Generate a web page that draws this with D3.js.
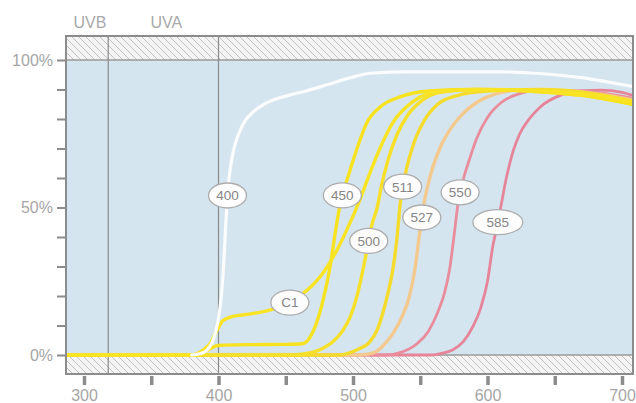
<!DOCTYPE html>
<html>
<head>
<meta charset="utf-8">
<script src="https://cdn.jsdelivr.net/npm/d3@7"></script>
<style>
  body { margin: 0; background: #fff; }
  svg { display: block; }
  text { font-family: "Liberation Sans", Arial, Helvetica, sans-serif; }
</style>
</head>
<body>
<svg id="chart" width="636" height="403"></svg>
<script>
// Axis ticks
const xTickValues = [300, 350, 400, 450, 500, 550, 600, 650, 700];
const xTickLabels = [300, 400, 500, 600, 700];
const yTickValues = [0, 10, 20, 30, 40, 50, 60, 70, 80, 90, 100];
const yTickLabels = [0, 50, 100];

// UV regions (nm)
const bandNames = ["UVB", "UVA"];
const bandEdges = [286.5, 318, 400];

// Transmission curves: wavelength (nm) and transmission (%)
const wl400 = [380, 386, 391, 395, 398, 400.5, 402.5, 404, 405.5, 407, 409, 411.5, 415, 420, 426, 433, 441, 452, 465, 480, 498, 513, 540, 572, 610, 632, 650, 670, 690, 708];
const tr400 = [0, 0.4, 1.5, 4, 8, 14, 22, 32, 45, 56, 64, 70, 75, 79.5, 82.5, 84.8, 86.5, 88, 89.5, 91.5, 94, 95.5, 96, 96, 96, 95.6, 95, 94, 92.5, 91];

const wl450 = [286, 385, 390, 395, 400, 420, 450, 462, 468, 473, 478, 483, 487, 490, 492, 496, 503, 510, 520, 535, 557, 590, 630, 670, 708];
const tr450 = [0, 0, 1, 2.5, 3.2, 3.5, 3.6, 3.8, 6, 11, 19, 30, 42, 50, 54, 60, 70, 78.5, 84, 87.5, 89.5, 90, 89.5, 88, 85];

const wlC1 = [286, 380, 388, 394, 399, 403, 410, 425, 440, 452, 466, 478, 488, 496, 505, 512, 520, 530, 545, 565, 600, 640, 680, 708];
const trC1 = [0, 0, 1.5, 4, 8.5, 11.5, 13, 14, 15.5, 17.5, 22, 28, 35.5, 43, 52.5, 61, 70, 79, 86, 89.5, 90, 89.5, 88, 86];

const wl500 = [286, 455, 465, 472, 478, 485, 492, 498, 503, 507, 511, 514, 518, 521, 526, 533, 541, 552, 565, 590, 630, 670, 708];
const tr500 = [0, 0, 0.5, 1.2, 2.4, 4.5, 8, 13, 20, 28, 37, 44, 50, 57, 66, 75, 81.5, 86.5, 89, 90, 89.5, 88, 85];

const wl511 = [286, 490, 498, 505, 512, 518, 522, 526, 530, 533, 535, 539, 545, 553, 563, 578, 600, 640, 680, 708];
const tr511 = [0, 0, 0.8, 2.2, 4.2, 8.5, 14, 21, 30, 41, 51, 61.5, 71.5, 79.5, 85, 88, 89.5, 90, 88.5, 86];

const wl527 = [286, 505, 515, 522, 530, 537, 542, 546, 550, 553, 557, 565, 573, 580, 590, 600, 625, 660, 690, 708];
const tr527 = [0, 0, 0.7, 3, 7.5, 13.5, 20, 29, 43, 52, 60, 70.5, 77, 81, 85, 87.5, 89.8, 89.5, 88, 86.5];

const wl550 = [286, 525, 535, 548, 556, 563, 568, 572, 575, 578, 582, 586, 592, 600, 610, 620, 640, 670, 708];
const tr550 = [0, 0, 0.8, 4, 8, 14.5, 21, 29.5, 40, 51, 59.5, 65.5, 73.5, 80.5, 85.5, 88, 89.8, 89.5, 87];

const wl585 = [286, 558, 565, 574, 582, 589, 595, 600, 604, 607, 610, 614, 619, 624, 631, 639, 654, 670, 684, 700, 708];
const tr585 = [0, 0, 0.5, 1.7, 4.5, 9.5, 16, 25, 37, 43.5, 50.5, 60, 69, 75, 80, 84, 88, 89.5, 89.8, 89, 88];

// Curve names, in drawing order, and the transmission level where each name tag sits
const seriesNames = ["585", "550", "527", "511", "500", "450", "C1", "400"];
const seriesWl = [wl585, wl550, wl527, wl511, wl500, wl450, wlC1, wl400];
const seriesTr = [tr585, tr550, tr527, tr511, tr500, tr450, trC1, tr400];
const labelLevels = [45, 55, 46.5, 57, 38.5, 54, 17.7, 54];

const colors = {
  "585": "#e6849a", "550": "#e98c9c", "527": "#f3c98e",
  "511": "#f5dc2c", "500": "#f6e02a", "450": "#f7e21f", "C1": "#f8e324", "400": "#fbfcfd"
};

const svg = d3.select("#chart");
const frame = { left: 66, right: 633, top: 36, bottom: 374 };

const x = d3.scaleLinear().domain([300, 700]).range([84, 622]);
const y = d3.scaleLinear().domain([0, 100]).range([355, 60]);

const defs = svg.append("defs");
const pat = defs.append("pattern")
  .attr("id", "hatch").attr("patternUnits", "userSpaceOnUse")
  .attr("width", 7).attr("height", 7);
pat.append("rect").attr("width", 7).attr("height", 7).attr("fill", "#f4f4f4");
pat.append("path").attr("d", "M-1,-1L8,8M-1,6L1,8M6,-1L8,1")
  .attr("stroke", "#c2c2c2").attr("stroke-width", 1);

defs.append("clipPath").attr("id", "plotClip").append("rect")
  .attr("x", frame.left).attr("y", y(100))
  .attr("width", frame.right - frame.left).attr("height", y(0) - y(100) + 2);

// plot background and hatched out-of-range bands
svg.append("rect").attr("x", frame.left).attr("y", y(100))
  .attr("width", frame.right - frame.left).attr("height", y(0) - y(100))
  .attr("fill", "#d5e5f0");
svg.append("rect").attr("x", frame.left).attr("y", frame.top)
  .attr("width", frame.right - frame.left).attr("height", y(100) - frame.top)
  .attr("fill", "url(#hatch)");
svg.append("rect").attr("x", frame.left).attr("y", y(0))
  .attr("width", frame.right - frame.left).attr("height", frame.bottom - y(0))
  .attr("fill", "url(#hatch)");

// 0% and 100% lines
[0, 100].forEach(v => {
  svg.append("line").attr("x1", frame.left).attr("x2", frame.right)
    .attr("y1", y(v)).attr("y2", y(v))
    .attr("stroke", "#9a9a9a").attr("stroke-width", 1.5);
});

// UV region dividers
bandEdges.slice(1).forEach(v => {
  svg.append("line").attr("x1", x(v)).attr("x2", x(v))
    .attr("y1", frame.top).attr("y2", frame.bottom)
    .attr("stroke", "#8a8a8a").attr("stroke-width", 1.2);
});

// UV region names
bandNames.forEach((n, i) => {
  svg.append("text")
    .attr("x", (x(bandEdges[i]) + x(bandEdges[i + 1])) / 2 + 3)
    .attr("y", 28)
    .attr("text-anchor", "middle")
    .attr("font-size", 16)
    .attr("fill", "#a9a9a9")
    .text(n);
});

// curves
const line = d3.line()
  .x(d => d[0])
  .y(d => d[1])
  .curve(d3.curveMonotoneX);

const curveG = svg.append("g").attr("clip-path", "url(#plotClip)");
const paths = seriesNames.map((name, k) => {
  const pts = seriesWl[k].map((w, i) => [x(w), y(seriesTr[k][i])]);
  const isPink = name === "585" || name === "550";
  return curveG.append("path")
    .attr("d", line(pts))
    .attr("fill", "none")
    .attr("stroke", colors[name])
    .attr("stroke-width", name === "400" ? 3.2 : (isPink ? 2.8 : 3.4))
    .attr("stroke-linecap", "round")
    .attr("stroke-linejoin", "round")
    .node();
});

// frame
svg.append("rect").attr("x", frame.left).attr("y", frame.top)
  .attr("width", frame.right - frame.left).attr("height", frame.bottom - frame.top)
  .attr("fill", "none").attr("stroke", "#8c8c8c").attr("stroke-width", 2);

// name tags on the curves
const tagG = svg.append("g");
seriesNames.forEach((name, k) => {
  const p = paths[k];
  const target = y(labelLevels[k]);
  const len = p.getTotalLength();
  let pt = p.getPointAtLength(0);
  for (let s = 0; s <= len; s += 0.5) {
    const q = p.getPointAtLength(s);
    if (q.y <= target) { pt = q; break; }
  }
  const rx = name === "585" ? 25 : 19;
  tagG.append("ellipse")
    .attr("cx", pt.x).attr("cy", pt.y).attr("rx", rx).attr("ry", 12.5)
    .attr("fill", "#fdfdfd").attr("stroke", "#adadad").attr("stroke-width", 1.3);
  tagG.append("text")
    .attr("x", pt.x).attr("y", pt.y).attr("dy", "0.36em")
    .attr("text-anchor", "middle").attr("font-size", 13.5)
    .attr("fill", "#858585")
    .text(name);
});

// axes
const xAxis = d3.axisBottom(x).tickValues(xTickValues).tickSize(9).tickPadding(5)
  .tickFormat(d => xTickLabels.includes(d) ? d : "");
const gx = svg.append("g").attr("transform", `translate(0,${frame.bottom + 2})`).call(xAxis);
gx.select(".domain").remove();
gx.selectAll(".tick line").attr("stroke", "#8c8c8c").attr("stroke-width", 3.5);
gx.selectAll(".tick text").attr("font-size", 16).attr("fill", "#a6a6a6")
  .attr("font-family", "'Liberation Sans', Arial, sans-serif");

const yAxis = d3.axisLeft(y).tickValues(yTickValues).tickSize(9).tickPadding(4)
  .tickFormat(d => yTickLabels.includes(d) ? d + "%" : "");
const gy = svg.append("g").attr("transform", `translate(${frame.left},0)`).call(yAxis);
gy.select(".domain").remove();
gy.selectAll(".tick line").attr("stroke", "#8c8c8c").attr("stroke-width", 2);
gy.selectAll(".tick text").attr("font-size", 16).attr("fill", "#a6a6a6")
  .attr("font-family", "'Liberation Sans', Arial, sans-serif");
</script>
</body>
</html>
